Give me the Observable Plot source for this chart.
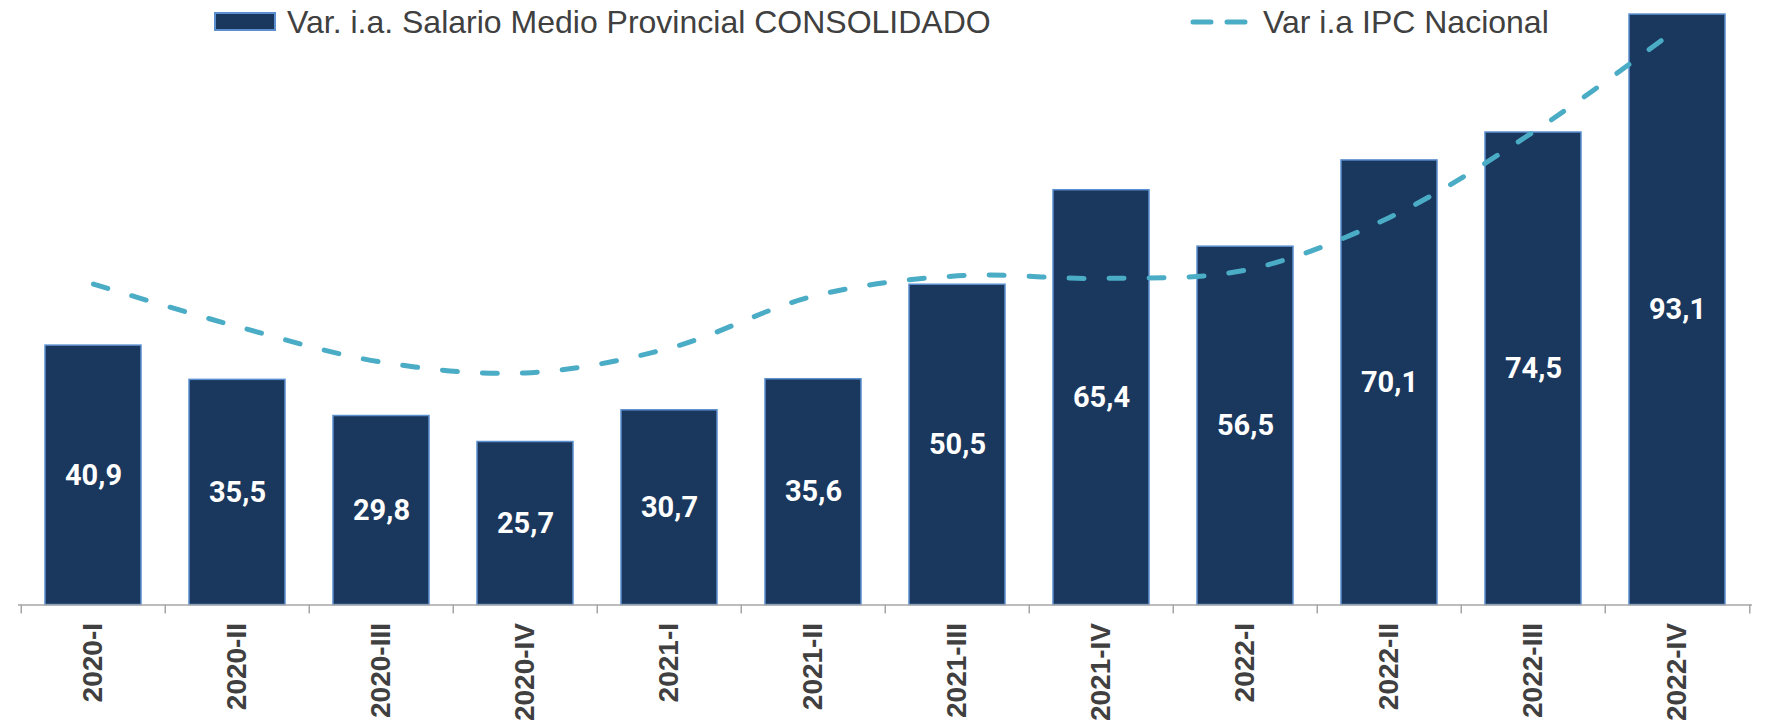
<!DOCTYPE html>
<html><head><meta charset="utf-8">
<script src="https://cdn.jsdelivr.net/npm/d3@7"></script>
<script src="https://cdn.jsdelivr.net/npm/@observablehq/plot@0.6"></script>
<style>
body{margin:0;background:#fff;}
#wrap{position:relative;width:1765px;height:721px;overflow:hidden;}
#legend{position:absolute;top:0;left:0;width:1765px;height:44px;font-family:"Liberation Sans",Arial,sans-serif;font-size:32px;color:#404040;pointer-events:none;}
.sw{position:absolute;}
.lt{position:absolute;top:4px;line-height:36px;white-space:nowrap;}
</style></head><body>
<div id="wrap"><div id="chart"></div><div id="legend"></div></div>
<script>
const periods = ["2020-I","2020-II","2020-III","2020-IV","2021-I","2021-II","2021-III","2021-IV","2022-I","2022-II","2022-III","2022-IV"];
const salario = [40.9,35.5,29.8,25.7,30.7,35.6,50.5,65.4,56.5,70.1,74.5,93.1];
const ipc = [50.6,43.9,38.3,36.6,40.5,48.7,51.9,51.5,52.8,61.1,74.6,90.9];
const seriesNames = ["Var. i.a. Salario Medio Provincial CONSOLIDADO","Var i.a IPC Nacional"];

const data = periods.map((p,i)=>({p, s:salario[i], i:ipc[i]}));
const W=1765, H=721, mL=18, mR=13;
const step = (W-mL-mR)/periods.length;
const navy="#1a375e", barStroke="#5b8fcf", teal="#4bacc6", grey="#a6a6a6", txt="#404040";

const chart = Plot.plot({
  width:W, height:H, marginLeft:mL, marginRight:mR, marginTop:2, marginBottom:116.5,
  x:{domain:periods, paddingInner:0.33, paddingOuter:0.165, axis:null},
  y:{domain:[0,95], axis:null},
  marks:[
    Plot.barY(data,{x:"p", y:"s", fill:navy, stroke:barStroke, strokeWidth:1.5}),
    Plot.ruleY([0],{stroke:grey, strokeWidth:1.5}),
    Plot.ruleX(periods,{x:d=>d, y1:0, y2:0, insetBottom:-9, dx:-step/2, stroke:grey, strokeWidth:1.5}),
    Plot.ruleX([periods[periods.length-1]],{x:d=>d, y1:0, y2:0, insetBottom:-9, dx:step/2, stroke:grey, strokeWidth:1.5}),
    Plot.line(data,{x:"p", y:"i", stroke:teal, strokeWidth:5, strokeDasharray:"15,25", strokeLinecap:"round", curve:"catmull-rom"}),
    Plot.text(data,{x:"p", y:d=>d.s/2, text:d=>d.s.toFixed(1).replace(".",","), fill:"white", fontSize:29, fontWeight:"bold", fontFamily:"Roboto"}),
    Plot.axisX({tickSize:0, tickPadding:18, tickRotate:-90, fontSize:28, fontWeight:"bold", fill:txt, fontFamily:"Liberation Sans", label:null})
  ]
});
document.getElementById("chart").appendChild(chart);

const lg = document.getElementById("legend");
lg.innerHTML = `
 <div class="sw" style="left:214px;top:12px;width:62px;height:19px;background:${navy};border:2px solid ${barStroke};box-sizing:border-box;"></div>
 <div class="lt" style="left:287px;">${seriesNames[0]}</div>
 <svg class="sw" style="left:1188px;top:12px;" width="64" height="20"><line x1="5" y1="10" x2="62" y2="10" stroke="${teal}" stroke-width="5" stroke-linecap="round" stroke-dasharray="18,16"/></svg>
 <div class="lt" style="left:1263px;">${seriesNames[1]}</div>`;
</script>
</body></html>
